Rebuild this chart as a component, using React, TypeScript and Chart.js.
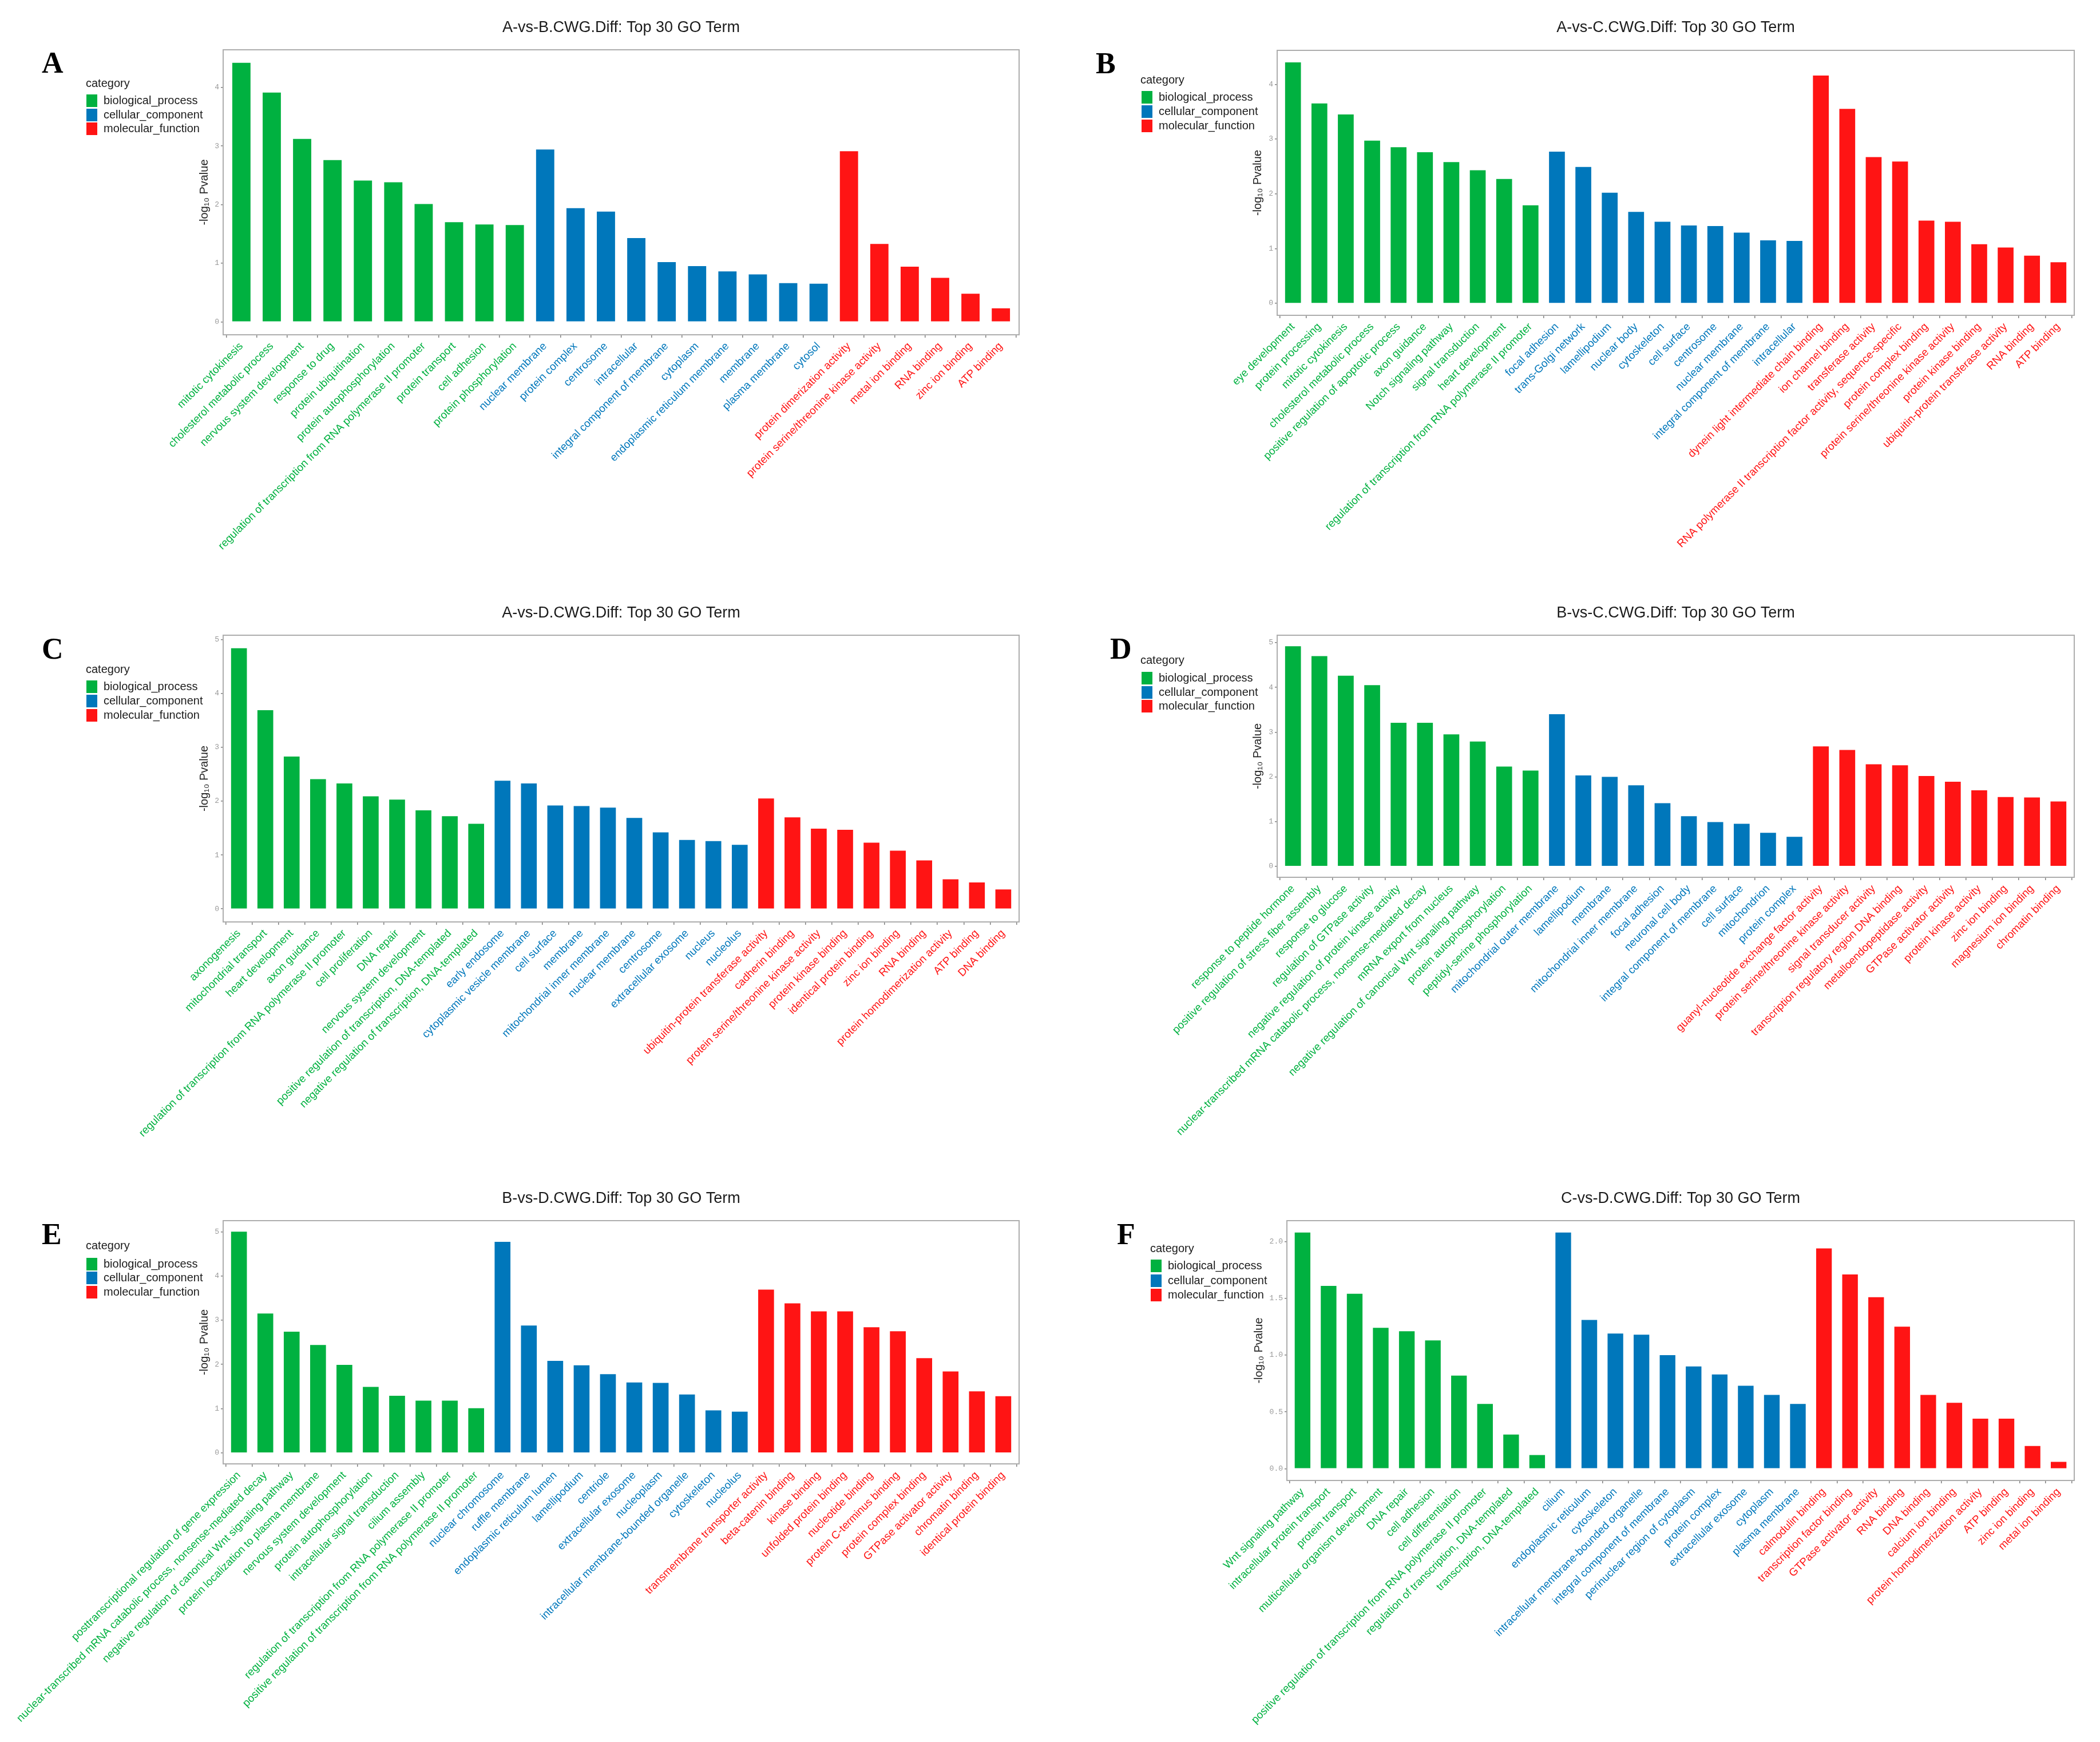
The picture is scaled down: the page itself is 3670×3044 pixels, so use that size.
import React, { useEffect, useRef } from 'react';
import { Chart, registerables } from 'chart.js';

Chart.register(...registerables);

const SANS = '"Liberation Sans", Arial, Helvetica, sans-serif';
Chart.defaults.font.family = SANS;

const categoryNames = ['biological_process', 'cellular_component', 'molecular_function'];
const categoryCodes = ['BP', 'CC', 'MF'];
const categoryColors: Record<string, string> = { BP: '#00B140', CC: '#0077BB', MF: '#FF1414' };

// ---------- Panel A: A-vs-B ----------
const termsA = [
  'mitotic cytokinesis', 'cholesterol metabolic process', 'nervous system development', 'response to drug',
  'protein ubiquitination', 'protein autophosphorylation', 'regulation of transcription from RNA polymerase II promoter',
  'protein transport', 'cell adhesion', 'protein phosphorylation',
  'nuclear membrane', 'protein complex', 'centrosome', 'intracellular', 'integral component of membrane',
  'cytoplasm', 'endoplasmic reticulum membrane', 'membrane', 'plasma membrane', 'cytosol',
  'protein dimerization activity', 'protein serine/threonine kinase activity', 'metal ion binding',
  'RNA binding', 'zinc ion binding', 'ATP binding',
];
const valuesA = [4.42, 3.91, 3.12, 2.76, 2.41, 2.38, 2.01, 1.70, 1.66, 1.65,
  2.94, 1.94, 1.88, 1.43, 1.02, 0.95, 0.86, 0.81, 0.66, 0.65,
  2.91, 1.33, 0.94, 0.75, 0.48, 0.23];
const catsA = ['BP', 'BP', 'BP', 'BP', 'BP', 'BP', 'BP', 'BP', 'BP', 'BP',
  'CC', 'CC', 'CC', 'CC', 'CC', 'CC', 'CC', 'CC', 'CC', 'CC',
  'MF', 'MF', 'MF', 'MF', 'MF', 'MF'];

// ---------- Panel B: A-vs-C ----------
const termsB = [
  'eye development', 'protein processing', 'mitotic cytokinesis', 'cholesterol metabolic process',
  'positive regulation of apoptotic process', 'axon guidance', 'Notch signaling pathway', 'signal transduction',
  'heart development', 'regulation of transcription from RNA polymerase II promoter',
  'focal adhesion', 'trans-Golgi network', 'lamellipodium', 'nuclear body', 'cytoskeleton', 'cell surface',
  'centrosome', 'nuclear membrane', 'integral component of membrane', 'intracellular',
  'dynein light intermediate chain binding', 'ion channel binding', 'transferase activity',
  'RNA polymerase II transcription factor activity, sequence-specific', 'protein complex binding',
  'protein serine/threonine kinase activity', 'protein kinase binding', 'ubiquitin-protein transferase activity',
  'RNA binding', 'ATP binding',
];
const valuesB = [4.40, 3.65, 3.45, 2.97, 2.85, 2.76, 2.58, 2.43, 2.27, 1.79,
  2.77, 2.49, 2.02, 1.67, 1.49, 1.42, 1.41, 1.29, 1.15, 1.14,
  4.16, 3.55, 2.67, 2.59, 1.51, 1.49, 1.08, 1.02, 0.87, 0.75];
const catsB = ['BP', 'BP', 'BP', 'BP', 'BP', 'BP', 'BP', 'BP', 'BP', 'BP',
  'CC', 'CC', 'CC', 'CC', 'CC', 'CC', 'CC', 'CC', 'CC', 'CC',
  'MF', 'MF', 'MF', 'MF', 'MF', 'MF', 'MF', 'MF', 'MF', 'MF'];

// ---------- Panel C: A-vs-D ----------
const termsC = [
  'axonogenesis', 'mitochondrial transport', 'heart development', 'axon guidance',
  'regulation of transcription from RNA polymerase II promoter', 'cell proliferation', 'DNA repair',
  'nervous system development', 'positive regulation of transcription, DNA-templated',
  'negative regulation of transcription, DNA-templated',
  'early endosome', 'cytoplasmic vesicle membrane', 'cell surface', 'membrane', 'mitochondrial inner membrane',
  'nuclear membrane', 'centrosome', 'extracellular exosome', 'nucleus', 'nucleolus',
  'ubiquitin-protein transferase activity', 'cadherin binding', 'protein serine/threonine kinase activity',
  'protein kinase binding', 'identical protein binding', 'zinc ion binding', 'RNA binding',
  'protein homodimerization activity', 'ATP binding', 'DNA binding',
];
const valuesC = [4.84, 3.69, 2.83, 2.41, 2.33, 2.09, 2.03, 1.83, 1.72, 1.58,
  2.38, 2.33, 1.92, 1.91, 1.88, 1.69, 1.42, 1.28, 1.26, 1.19,
  2.05, 1.70, 1.49, 1.47, 1.23, 1.08, 0.90, 0.55, 0.49, 0.36];
const catsC = catsB.slice();

// ---------- Panel D: B-vs-C ----------
const termsD = [
  'response to peptide hormone', 'positive regulation of stress fiber assembly', 'response to glucose',
  'regulation of GTPase activity', 'negative regulation of protein kinase activity',
  'nuclear-transcribed mRNA catabolic process, nonsense-mediated decay', 'mRNA export from nucleus',
  'negative regulation of canonical Wnt signaling pathway', 'protein autophosphorylation',
  'peptidyl-serine phosphorylation',
  'mitochondrial outer membrane', 'lamellipodium', 'membrane', 'mitochondrial inner membrane', 'focal adhesion',
  'neuronal cell body', 'integral component of membrane', 'cell surface', 'mitochondrion', 'protein complex',
  'guanyl-nucleotide exchange factor activity', 'protein serine/threonine kinase activity',
  'signal transducer activity', 'transcription regulatory region DNA binding', 'metalloendopeptidase activity',
  'GTPase activator activity', 'protein kinase activity', 'zinc ion binding', 'magnesium ion binding',
  'chromatin binding',
];
const valuesD = [4.92, 4.70, 4.26, 4.05, 3.21, 3.21, 2.95, 2.79, 2.23, 2.14,
  3.40, 2.03, 2.00, 1.81, 1.41, 1.12, 0.99, 0.95, 0.75, 0.66,
  2.68, 2.60, 2.28, 2.26, 2.02, 1.89, 1.70, 1.55, 1.54, 1.45];
const catsD = catsB.slice();

// ---------- Panel E: B-vs-D ----------
const termsE = [
  'posttranscriptional regulation of gene expression',
  'nuclear-transcribed mRNA catabolic process, nonsense-mediated decay',
  'negative regulation of canonical Wnt signaling pathway', 'protein localization to plasma membrane',
  'nervous system development', 'protein autophosphorylation', 'intracellular signal transduction',
  'cilium assembly', 'regulation of transcription from RNA polymerase II promoter',
  'positive regulation of transcription from RNA polymerase II promoter',
  'nuclear chromosome', 'ruffle membrane', 'endoplasmic reticulum lumen', 'lamellipodium', 'centriole',
  'extracellular exosome', 'nucleoplasm', 'intracellular membrane-bounded organelle', 'cytoskeleton', 'nucleolus',
  'transmembrane transporter activity', 'beta-catenin binding', 'kinase binding', 'unfolded protein binding',
  'nucleotide binding', 'protein C-terminus binding', 'protein complex binding', 'GTPase activator activity',
  'chromatin binding', 'identical protein binding',
];
const valuesE = [5.00, 3.15, 2.74, 2.44, 1.99, 1.49, 1.29, 1.18, 1.18, 1.01,
  4.77, 2.88, 2.08, 1.98, 1.78, 1.59, 1.58, 1.32, 0.96, 0.93,
  3.69, 3.38, 3.20, 3.20, 2.84, 2.75, 2.14, 1.84, 1.39, 1.28];
const catsE = catsB.slice();

// ---------- Panel F: C-vs-D ----------
const termsF = [
  'Wnt signaling pathway', 'intracellular protein transport', 'protein transport',
  'multicellular organism development', 'DNA repair', 'cell adhesion', 'cell differentiation',
  'positive regulation of transcription from RNA polymerase II promoter',
  'regulation of transcription, DNA-templated', 'transcription, DNA-templated',
  'cilium', 'endoplasmic reticulum', 'cytoskeleton', 'intracellular membrane-bounded organelle',
  'integral component of membrane', 'perinuclear region of cytoplasm', 'protein complex',
  'extracellular exosome', 'cytoplasm', 'plasma membrane',
  'calmodulin binding', 'transcription factor binding', 'GTPase activator activity', 'RNA binding',
  'DNA binding', 'calcium ion binding', 'protein homodimerization activity', 'ATP binding',
  'zinc ion binding', 'metal ion binding',
];
const valuesF = [2.08, 1.61, 1.54, 1.24, 1.21, 1.13, 0.82, 0.57, 0.30, 0.12,
  2.08, 1.31, 1.19, 1.18, 1.00, 0.90, 0.83, 0.73, 0.65, 0.57,
  1.94, 1.71, 1.51, 1.25, 0.65, 0.58, 0.44, 0.44, 0.20, 0.06];
const catsF = catsB.slice();

type Spec = {
  letter: string; title: string; terms: string[]; values: number[]; cats: string[];
  ox: number; oy: number; W: number; H: number;
  plot: { l: number; r: number; t: number; b: number };
  titleY: number; letterX: number; letterY: number;
  legend: { x: number; keyX: number; titleY: number; rows: number[] };
  yW: number; yStep: number; yDec: number;
};

const specs: Spec[] = [
  { letter: 'A', title: 'A-vs-B.CWG.Diff: Top 30 GO Term', terms: termsA, values: valuesA, cats: catsA,
    ox: 0, oy: 0, W: 1835, H: 1020, plot: { l: 390, r: 1781, t: 87, b: 585 },
    titleY: 49, letterX: 73, letterY: 127, legend: { x: 150, keyX: 151, titleY: 146, rows: [176, 201, 225] },
    yW: 45, yStep: 1, yDec: 0 },
  { letter: 'B', title: 'A-vs-C.CWG.Diff: Top 30 GO Term', terms: termsB, values: valuesB, cats: catsB,
    ox: 1835, oy: 0, W: 1835, H: 1020, plot: { l: 397, r: 1790, t: 88, b: 551 },
    titleY: 49, letterX: 80, letterY: 128, legend: { x: 158, keyX: 160, titleY: 140, rows: [170, 195, 220] },
    yW: 46, yStep: 1, yDec: 0 },
  { letter: 'C', title: 'A-vs-D.CWG.Diff: Top 30 GO Term', terms: termsC, values: valuesC, cats: catsC,
    ox: 0, oy: 1020, W: 1835, H: 1020, plot: { l: 390, r: 1781, t: 90, b: 591 },
    titleY: 52, letterX: 73, letterY: 131, legend: { x: 150, keyX: 151, titleY: 150, rows: [180, 205, 230] },
    yW: 45, yStep: 1, yDec: 0 },
  { letter: 'D', title: 'B-vs-C.CWG.Diff: Top 30 GO Term', terms: termsD, values: valuesD, cats: catsD,
    ox: 1835, oy: 1020, W: 1835, H: 1020, plot: { l: 397, r: 1790, t: 90, b: 513 },
    titleY: 52, letterX: 105, letterY: 131, legend: { x: 158, keyX: 160, titleY: 134, rows: [165, 190, 214] },
    yW: 46, yStep: 1, yDec: 0 },
  { letter: 'E', title: 'B-vs-D.CWG.Diff: Top 30 GO Term', terms: termsE, values: valuesE, cats: catsE,
    ox: 0, oy: 2040, W: 1835, H: 1004, plot: { l: 390, r: 1781, t: 93, b: 518 },
    titleY: 55, letterX: 73, letterY: 134, legend: { x: 150, keyX: 151, titleY: 137, rows: [169, 193, 218] },
    yW: 45, yStep: 1, yDec: 0 },
  { letter: 'F', title: 'C-vs-D.CWG.Diff: Top 30 GO Term', terms: termsF, values: valuesF, cats: catsF,
    ox: 1835, oy: 2040, W: 1835, H: 1004, plot: { l: 414, r: 1790, t: 93, b: 547 },
    titleY: 55, letterX: 117, letterY: 134, legend: { x: 175, keyX: 176, titleY: 142, rows: [172, 198, 223] },
    yW: 61, yStep: 0.5, yDec: 1 },
];

function Panel({ spec }: { spec: Spec }) {
  const ref = useRef<HTMLCanvasElement | null>(null);
  useEffect(() => {
    if (!ref.current) return;
    const s = spec;
    const n = s.terms.length;
    const maxV = Math.max(...s.values);
    const deco = {
      id: 'deco' + s.letter,
      afterDraw(chart: any) {
        const { ctx, chartArea: a } = chart;
        ctx.save();
        ctx.strokeStyle = '#ADADAD';
        ctx.lineWidth = 2;
        ctx.strokeRect(a.left, a.top, a.right - a.left, a.bottom - a.top);
        // title
        ctx.fillStyle = '#1a1a1a';
        ctx.font = `27px ${SANS}`;
        ctx.textAlign = 'center';
        ctx.textBaseline = 'middle';
        ctx.fillText(s.title, (a.left + a.right) / 2, s.titleY);
        // panel letter
        ctx.fillStyle = '#000';
        ctx.font = 'bold 52px "Liberation Serif", "Times New Roman", serif';
        ctx.textAlign = 'left';
        ctx.textBaseline = 'alphabetic';
        ctx.fillText(s.letter, s.letterX, s.letterY);
        // legend
        ctx.font = `20px ${SANS}`;
        ctx.textBaseline = 'middle';
        ctx.fillStyle = '#1a1a1a';
        ctx.fillText('category', s.legend.x, s.legend.titleY);
        categoryNames.forEach((name, i) => {
          const cy = s.legend.rows[i];
          ctx.fillStyle = categoryColors[categoryCodes[i]];
          ctx.fillRect(s.legend.keyX, cy - 11, 19, 22);
          ctx.fillStyle = '#1a1a1a';
          ctx.fillText(name, s.legend.keyX + 30, cy);
        });
        ctx.restore();
      },
    };
    const chart = new Chart(ref.current, {
      type: 'bar',
      data: {
        datasets: [{
          data: s.values.map((v, i) => ({ x: i, y: v })),
          backgroundColor: s.cats.map((c) => categoryColors[c]),
          borderWidth: 0,
          barPercentage: 0.6,
          categoryPercentage: 1,
        }],
      },
      options: {
        animation: false,
        responsive: false,
        layout: { padding: { left: s.plot.l - s.yW, right: s.W - s.plot.r, top: s.plot.t, bottom: 0 } },
        plugins: { legend: { display: false }, tooltip: { enabled: false }, title: { display: false } },
        scales: {
          x: {
            type: 'linear',
            min: -0.6,
            max: n - 0.4,
            offset: false,
            grid: { display: true, drawOnChartArea: false, drawTicks: true, tickLength: 5, color: '#808080', lineWidth: 1.5 },
            border: { display: false },
            ticks: {
              stepSize: 1,
              maxTicksLimit: 200,
              autoSkip: false,
              includeBounds: false,
              minRotation: 45,
              maxRotation: 45,
              padding: 4,
              font: { size: 19, family: SANS },
              color: (ctx: any) => categoryColors[s.cats[Math.round(ctx.tick?.value ?? 0)]] || '#000',
              callback: (v: any) => s.terms[Math.round(Number(v))] ?? '',
            },
            afterFit: (sc: any) => { sc.height = s.H - s.plot.b; },
          },
          y: {
            min: -0.05 * maxV,
            max: 1.05 * maxV,
            grid: { display: true, drawOnChartArea: false, drawTicks: true, tickLength: 4, color: '#808080', lineWidth: 1.5 },
            border: { display: false },
            ticks: {
              stepSize: s.yStep,
              includeBounds: false,
              padding: 3,
              font: { size: 13, family: '"Liberation Mono", "DejaVu Sans Mono", monospace' },
              color: '#9a9a9a',
              callback: (v: any) => Number(v).toFixed(s.yDec),
            },
            title: { display: true, text: '-log₁₀ Pvalue', font: { size: 20, family: SANS }, color: '#222', padding: 0 },
            afterFit: (sc: any) => { sc.width = s.yW; },
          },
        },
      },
      plugins: [deco],
    } as any);
    return () => chart.destroy();
  }, [spec]);
  return (
    <canvas
      ref={ref}
      width={spec.W}
      height={spec.H}
      style={{ position: 'absolute', left: spec.ox, top: spec.oy, width: spec.W, height: spec.H }}
    />
  );
}

export default function App() {
  return (
    <div style={{ position: 'absolute', left: 0, top: 0, width: 3670, height: 3044, background: '#fff', overflow: 'hidden' }}>
      {specs.map((sp) => <Panel key={sp.letter} spec={sp} />)}
    </div>
  );
}
